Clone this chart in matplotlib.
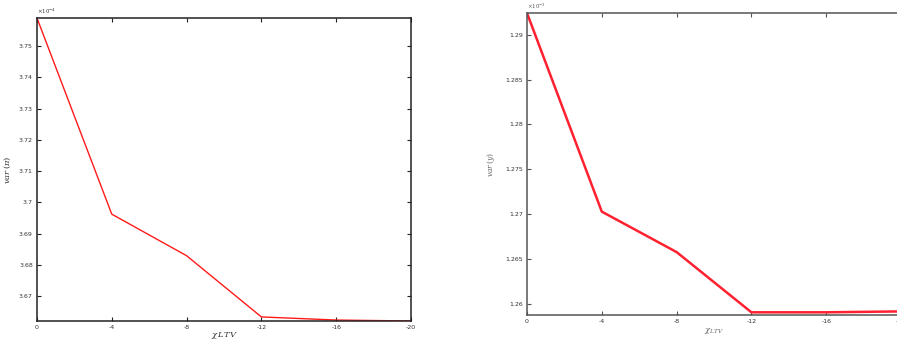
import matplotlib
matplotlib.use('Agg')
import matplotlib.pyplot as plt

plt.rcParams['mathtext.fontset'] = 'dejavuserif'

# data
chi_ltv = [0, -4, -8, -12, -16, -20]
var_pi = [3.7590, 3.6962, 3.6829, 3.6633, 3.6623, 3.6620]   # x1e-4
var_y = [1.2924, 1.2703, 1.2658, 1.2591, 1.2591, 1.2592]    # x1e-3
pi_ticks = [3.67, 3.68, 3.69, 3.70, 3.71, 3.72, 3.73, 3.74, 3.75]
pi_ticklabels = ['3.67', '3.68', '3.69', '3.7', '3.71', '3.72', '3.73', '3.74', '3.75']
y_ticks = [1.26, 1.265, 1.27, 1.275, 1.28, 1.285, 1.29]
y_ticklabels = ['1.26', '1.265', '1.27', '1.275', '1.28', '1.285', '1.29']
x_ticks = [0, -4, -8, -12, -16, -20]

fig = plt.figure(figsize=(8.97, 3.44), dpi=100)

def style(ax, col):
    ax.set_xlim(0, -20)
    ax.set_xticks(x_ticks)
    ax.set_xticklabels([str(t) for t in x_ticks])
    ax.tick_params(direction='in', length=3, width=0.8, labelsize=4.5,
                   top=True, right=True, colors=col, labelcolor='#333333', pad=3)
    for s in ax.spines.values():
        s.set_linewidth(1.1)
        s.set_color(col)

# left panel
ax1 = fig.add_axes([0.0412, 0.0669, 0.417, 0.8808])
ax1.plot(chi_ltv, var_pi, color='#ff1a1a', lw=1.0)
ax1.set_ylim(3.6620, 3.7590)
ax1.set_yticks(pi_ticks)
ax1.set_yticklabels(pi_ticklabels)
style(ax1, '#222222')
ax1.set_ylabel(r'$var\,(\pi)$', fontsize=6, color='#333333', labelpad=4)
ax1.set_xlabel(r'$\chi\, LTV$', fontsize=6, color='#333333', labelpad=0)
ax1.text(0.0, 1.005, r'$\times 10^{-4}$', transform=ax1.transAxes, fontsize=4,
         ha='left', va='bottom', color='#333333')

# right panel (cut off at the right edge)
ax2 = fig.add_axes([0.5875, 0.0843, 0.417, 0.8779])
ax2.plot(chi_ltv, var_y, color='#ff2030', lw=1.8)
ax2.set_ylim(1.2588, 1.2924)
ax2.set_yticks(y_ticks)
ax2.set_yticklabels(y_ticklabels)
style(ax2, '#555555')
ax2.set_ylabel(r'$var\,(y)$', fontsize=5.5, color='#666666', labelpad=6)
ax2.set_xlabel(r'$\chi_{LTV}$', fontsize=6, color='#666666', labelpad=1)
ax2.text(0.0, 1.005, r'$\times 10^{-3}$', transform=ax2.transAxes, fontsize=4,
         ha='left', va='bottom', color='#555555')

fig.savefig('out.png', dpi=100)
